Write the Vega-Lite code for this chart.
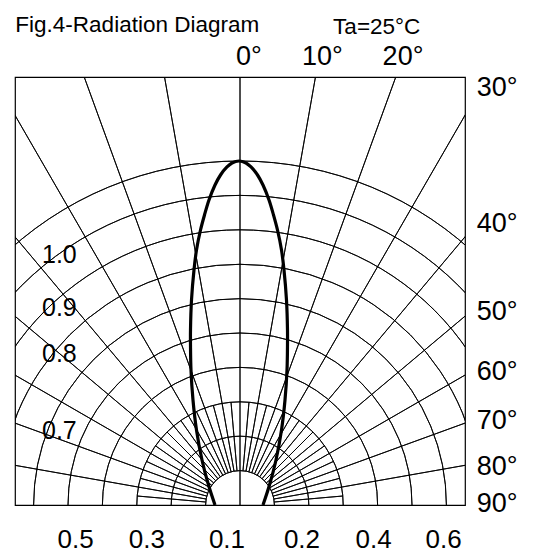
{
  "$schema": "https://vega.github.io/schema/vega-lite/v6.json",
  "width": 450,
  "height": 428,
  "autosize": "none",
  "padding": {"left": 15, "top": 77, "right": 69, "bottom": 51},
  "background": "white",
  "config": {
    "view": {"stroke": "#000", "strokeWidth": 1.2},
    "text": {"font": "Liberation Sans", "color": "#000"}
  },
  "datasets": {
    "circles": [
      {"r": 1, "a0": -90, "a1": 90}, {"r": 2, "a0": -90, "a1": 90},
      {"r": 3, "a0": -90, "a1": 90}, {"r": 4, "a0": -90, "a1": 90},
      {"r": 5, "a0": -90, "a1": 90}, {"r": 6, "a0": -90, "a1": 90},
      {"r": 7, "a0": -90, "a1": 90}, {"r": 8, "a0": -90, "a1": 90},
      {"r": 9, "a0": -90, "a1": 90}, {"r": 10, "a0": -90, "a1": 90}
    ],
    "spokes": [
      {"a": 0, "r0": 0, "r1": 15},
      {"a": -10, "r0": 1, "r1": 15}, {"a": 10, "r0": 1, "r1": 15},
      {"a": -20, "r0": 1, "r1": 15}, {"a": 20, "r0": 1, "r1": 15},
      {"a": -30, "r0": 1, "r1": 15}, {"a": 30, "r0": 1, "r1": 15},
      {"a": -40, "r0": 1, "r1": 15}, {"a": 40, "r0": 1, "r1": 15},
      {"a": -50, "r0": 1, "r1": 15}, {"a": 50, "r0": 1, "r1": 15},
      {"a": -60, "r0": 1, "r1": 15}, {"a": 60, "r0": 1, "r1": 15},
      {"a": -70, "r0": 1, "r1": 15}, {"a": 70, "r0": 1, "r1": 15},
      {"a": -80, "r0": 1, "r1": 15}, {"a": 80, "r0": 1, "r1": 15},
      {"a": -5, "r0": 1, "r1": 3}, {"a": 5, "r0": 1, "r1": 3},
      {"a": -15, "r0": 1, "r1": 3}, {"a": 15, "r0": 1, "r1": 3},
      {"a": -25, "r0": 1, "r1": 3}, {"a": 25, "r0": 1, "r1": 3},
      {"a": -35, "r0": 1, "r1": 3}, {"a": 35, "r0": 1, "r1": 3},
      {"a": -45, "r0": 1, "r1": 3}, {"a": 45, "r0": 1, "r1": 3},
      {"a": -55, "r0": 1, "r1": 3}, {"a": 55, "r0": 1, "r1": 3},
      {"a": -65, "r0": 1, "r1": 3}, {"a": 65, "r0": 1, "r1": 3},
      {"a": -75, "r0": 1, "r1": 3}, {"a": 75, "r0": 1, "r1": 3},
      {"a": -85, "r0": 1, "r1": 3}, {"a": 85, "r0": 1, "r1": 3}
    ],
    "lobe": [
      {"i": 1, "x": -0.722, "y": 0},
      {"i": 2, "x": -0.910, "y": 0.579},
      {"i": 3, "x": -1.098, "y": 1.304},
      {"i": 4, "x": -1.257, "y": 2.173},
      {"i": 5, "x": -1.358, "y": 3.042},
      {"i": 6, "x": -1.416, "y": 3.911},
      {"i": 7, "x": -1.430, "y": 4.636},
      {"i": 8, "x": -1.430, "y": 5.070},
      {"i": 9, "x": -1.401, "y": 5.939},
      {"i": 10, "x": -1.329, "y": 6.808},
      {"i": 11, "x": -1.257, "y": 7.388},
      {"i": 12, "x": -1.141, "y": 7.967},
      {"i": 13, "x": -1.026, "y": 8.402},
      {"i": 14, "x": -0.896, "y": 8.837},
      {"i": 15, "x": -0.722, "y": 9.271},
      {"i": 16, "x": -0.563, "y": 9.561},
      {"i": 17, "x": -0.376, "y": 9.793},
      {"i": 18, "x": -0.231, "y": 9.909},
      {"i": 19, "x": -0.029, "y": 9.966},
      {"i": 20, "x": 0.173, "y": 9.909},
      {"i": 21, "x": 0.318, "y": 9.793},
      {"i": 22, "x": 0.506, "y": 9.561},
      {"i": 23, "x": 0.664, "y": 9.271},
      {"i": 24, "x": 0.838, "y": 8.837},
      {"i": 25, "x": 0.968, "y": 8.402},
      {"i": 26, "x": 1.083, "y": 7.967},
      {"i": 27, "x": 1.199, "y": 7.388},
      {"i": 28, "x": 1.271, "y": 6.808},
      {"i": 29, "x": 1.343, "y": 5.939},
      {"i": 30, "x": 1.372, "y": 5.070},
      {"i": 31, "x": 1.372, "y": 4.636},
      {"i": 32, "x": 1.358, "y": 3.911},
      {"i": 33, "x": 1.300, "y": 3.042},
      {"i": 34, "x": 1.199, "y": 2.173},
      {"i": 35, "x": 1.040, "y": 1.304},
      {"i": 36, "x": 0.852, "y": 0.579},
      {"i": 37, "x": 0.664, "y": 0}
    ],
    "bottomLabels": [
      {"t": "0.5", "x": -4.75, "y": -1.0},
      {"t": "0.3", "x": -2.69, "y": -1.0},
      {"t": "0.1", "x": -0.376, "y": -1.0},
      {"t": "0.2", "x": 1.79, "y": -1.0},
      {"t": "0.4", "x": 3.86, "y": -1.0},
      {"t": "0.6", "x": 5.88, "y": -1.0}
    ],
    "rightLabels": [
      {"t": "30°", "x": 6.84, "y": 12.07},
      {"t": "40°", "x": 6.84, "y": 8.14},
      {"t": "50°", "x": 6.84, "y": 5.59},
      {"t": "60°", "x": 6.84, "y": 3.84},
      {"t": "70°", "x": 6.84, "y": 2.43},
      {"t": "80°", "x": 6.84, "y": 1.09},
      {"t": "90°", "x": 6.84, "y": 0.03}
    ],
    "topLabels": [
      {"t": "0°", "x": 0.26, "y": 12.98},
      {"t": "10°", "x": 2.38, "y": 12.98},
      {"t": "20°", "x": 4.71, "y": 12.98}
    ],
    "leftLabels": [
      {"t": "1.0", "x": -5.72, "y": 7.24},
      {"t": "0.9", "x": -5.72, "y": 5.72},
      {"t": "0.8", "x": -5.72, "y": 4.37},
      {"t": "0.7", "x": -5.72, "y": 2.14}
    ],
    "titles": [
      {"t": "Fig.4-Radiation Diagram", "x": -6.49, "y": 13.69}
    ],
    "notes": [
      {"t": "Ta=25°C", "x": 2.69, "y": 13.65}
    ]
  },
  "layer": [
    {
      "data": {"name": "circles"},
      "mark": {"type": "arc", "filled": false, "fill": null, "stroke": "#000", "strokeWidth": 0.9, "clip": true},
      "encoding": {
        "x": {"datum": 0, "type": "quantitative", "scale": {"domain": [-6.5, 6.5], "nice": false, "zero": false}, "axis": null},
        "y": {"datum": 0, "type": "quantitative", "scale": {"domain": [0, 12.4], "nice": false, "zero": false}, "axis": null},
        "theta": {"field": "a0", "type": "quantitative", "stack": null, "scale": {"domain": [-90, 90], "range": [-1.5707963, 1.5707963]}},
        "theta2": {"field": "a1"},
        "radius": {"field": "r", "type": "quantitative", "scale": {"type": "linear", "zero": true, "domain": [0, 10], "range": [0, 344]}},
        "radius2": {"field": "r"}
      }
    },
    {
      "data": {"name": "spokes"},
      "mark": {"type": "arc", "filled": false, "fill": null, "stroke": "#000", "strokeWidth": 0.9, "clip": true},
      "encoding": {
        "x": {"datum": 0, "type": "quantitative", "scale": {"domain": [-6.5, 6.5], "nice": false, "zero": false}, "axis": null},
        "y": {"datum": 0, "type": "quantitative", "scale": {"domain": [0, 12.4], "nice": false, "zero": false}, "axis": null},
        "theta": {"field": "a", "type": "quantitative", "stack": null, "scale": {"domain": [-90, 90], "range": [-1.5707963, 1.5707963]}},
        "theta2": {"field": "a"},
        "radius": {"field": "r1", "type": "quantitative", "scale": {"type": "linear", "zero": true, "domain": [0, 10], "range": [0, 344]}},
        "radius2": {"field": "r0"}
      }
    },
    {
      "data": {"name": "lobe"},
      "mark": {"type": "line", "stroke": "#000", "strokeWidth": 3.2, "interpolate": "catmull-rom", "clip": true},
      "encoding": {
        "x": {"field": "x", "type": "quantitative", "scale": {"domain": [-6.5, 6.5], "nice": false, "zero": false}, "axis": null},
        "y": {"field": "y", "type": "quantitative", "scale": {"domain": [0, 12.4], "nice": false, "zero": false}, "axis": null},
        "order": {"field": "i", "type": "quantitative"}
      }
    },
    {
      "data": {"name": "bottomLabels"},
      "mark": {"type": "text", "fontSize": 26, "align": "center", "baseline": "middle"},
      "encoding": {
        "x": {"field": "x", "type": "quantitative", "scale": {"domain": [-6.5, 6.5], "nice": false, "zero": false}, "axis": null},
        "y": {"field": "y", "type": "quantitative", "scale": {"domain": [0, 12.4], "nice": false, "zero": false}, "axis": null},
        "text": {"field": "t"}
      }
    },
    {
      "data": {"name": "rightLabels"},
      "mark": {"type": "text", "fontSize": 27, "align": "left", "baseline": "middle"},
      "encoding": {
        "x": {"field": "x", "type": "quantitative", "scale": {"domain": [-6.5, 6.5], "nice": false, "zero": false}, "axis": null},
        "y": {"field": "y", "type": "quantitative", "scale": {"domain": [0, 12.4], "nice": false, "zero": false}, "axis": null},
        "text": {"field": "t"}
      }
    },
    {
      "data": {"name": "topLabels"},
      "mark": {"type": "text", "fontSize": 27, "align": "center", "baseline": "middle"},
      "encoding": {
        "x": {"field": "x", "type": "quantitative", "scale": {"domain": [-6.5, 6.5], "nice": false, "zero": false}, "axis": null},
        "y": {"field": "y", "type": "quantitative", "scale": {"domain": [0, 12.4], "nice": false, "zero": false}, "axis": null},
        "text": {"field": "t"}
      }
    },
    {
      "data": {"name": "leftLabels"},
      "mark": {"type": "text", "fontSize": 25, "align": "left", "baseline": "middle"},
      "encoding": {
        "x": {"field": "x", "type": "quantitative", "scale": {"domain": [-6.5, 6.5], "nice": false, "zero": false}, "axis": null},
        "y": {"field": "y", "type": "quantitative", "scale": {"domain": [0, 12.4], "nice": false, "zero": false}, "axis": null},
        "text": {"field": "t"}
      }
    },
    {
      "data": {"name": "titles"},
      "mark": {"type": "text", "fontSize": 22.5, "align": "left", "baseline": "alphabetic"},
      "encoding": {
        "x": {"field": "x", "type": "quantitative", "scale": {"domain": [-6.5, 6.5], "nice": false, "zero": false}, "axis": null},
        "y": {"field": "y", "type": "quantitative", "scale": {"domain": [0, 12.4], "nice": false, "zero": false}, "axis": null},
        "text": {"field": "t"}
      }
    },
    {
      "data": {"name": "notes"},
      "mark": {"type": "text", "fontSize": 22.5, "align": "left", "baseline": "alphabetic"},
      "encoding": {
        "x": {"field": "x", "type": "quantitative", "scale": {"domain": [-6.5, 6.5], "nice": false, "zero": false}, "axis": null},
        "y": {"field": "y", "type": "quantitative", "scale": {"domain": [0, 12.4], "nice": false, "zero": false}, "axis": null},
        "text": {"field": "t"}
      }
    }
  ]
}
